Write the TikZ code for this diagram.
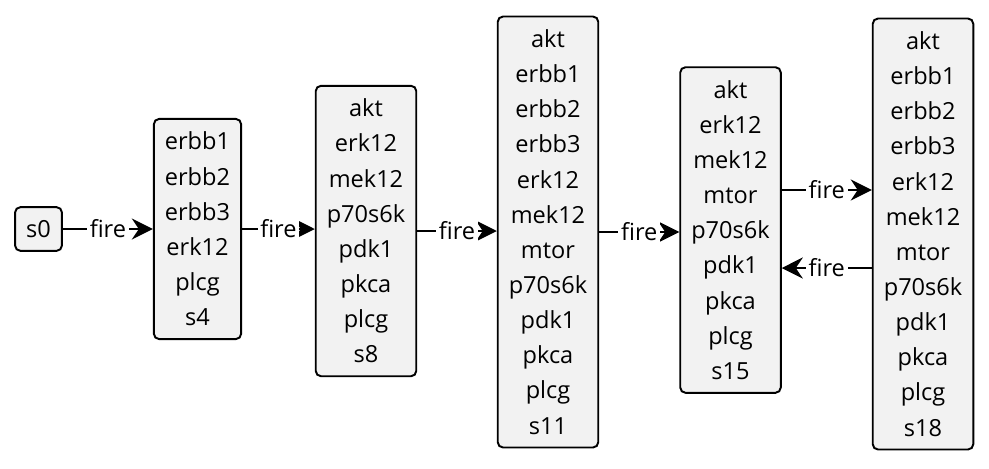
\documentclass[tikz,border=0pt]{standalone}
\usepackage{fontspec}
\setmainfont{Open Sans}
\usetikzlibrary{arrows.meta}

\begin{document}
\begin{tikzpicture}[x=0.02cm,y=-0.02cm,
    state/.style={draw,line width=1.1pt,rounded corners=3pt,fill=black!5,align=center,inner xsep=6.3pt,inner ysep=7.5pt,font=\fontsize{13.4}{20}\selectfont},
    fire/.style={line width=1pt,-{Stealth[length=12pt,width=12pt,inset=4pt]}},
    lbl/.style={fill=white,inner sep=1.5pt,font=\fontsize{13.4}{15}\selectfont}]
    \useasboundingbox (0,0) rectangle (989,468);

    \node[state] (s0) at (38.5,229){s0};
    \node[state] (s4) at (197.5,229){erbb1\\erbb2\\erbb3\\erk12\\plcg\\s4};
    \node[state] (s8) at (366,231){akt\\erk12\\mek12\\p70s6k\\pdk1\\pkca\\plcg\\s8};
    \node[state] (s11) at (548,232){akt\\erbb1\\erbb2\\erbb3\\erk12\\mek12\\mtor\\p70s6k\\pdk1\\pkca\\plcg\\s11};
    \node[state] (s15) at (730.5,230){akt\\erk12\\mek12\\mtor\\p70s6k\\pdk1\\pkca\\plcg\\s15};
    \node[state] (s18) at (923,234){akt\\erbb1\\erbb2\\erbb3\\erk12\\mek12\\mtor\\p70s6k\\pdk1\\pkca\\plcg\\s18};

    \coordinate (up) at (0,190);
    \coordinate (down) at (0,268);

    \draw[fire] (s0) -- (s0 -| s4.west) node[lbl,midway]{fire};
    \draw[fire] (s4) -- (s4 -| s8.west) node[lbl,midway]{fire};
    \draw[fire] (s8) -- (s8 -| s11.west) node[lbl,midway]{fire};
    \draw[fire] (s11) -- (s11 -| s15.west) node[lbl,midway]{fire};
    \draw[fire] (s15.east |- up) -- (up -| s18.west) node[lbl,midway]{fire};
    \draw[fire] (s18.west |- down) -- (down -| s15.east) node[lbl,midway]{fire};
\end{tikzpicture}
\end{document}
